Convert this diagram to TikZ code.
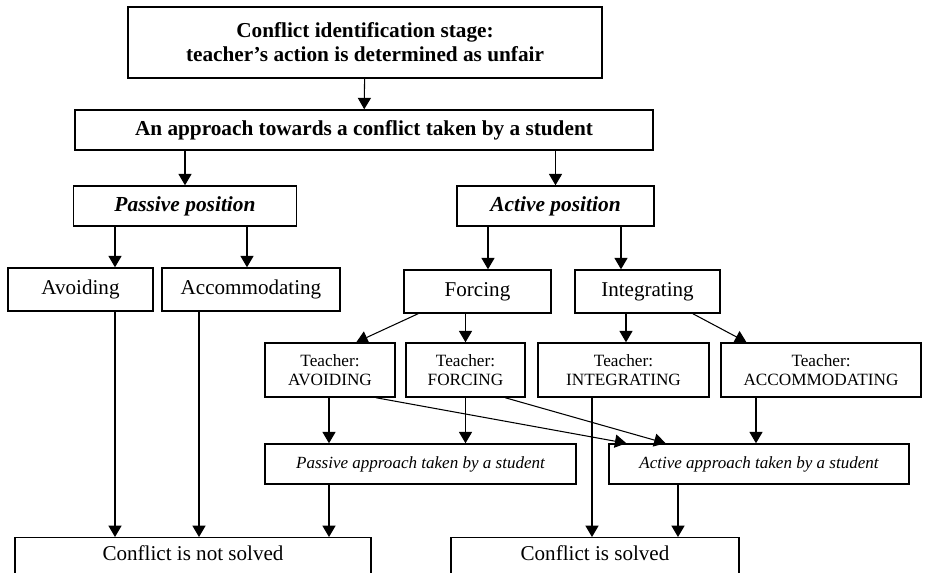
\documentclass[tikz,border=0pt]{standalone}
\usepackage{fontspec}
\setmainfont{Liberation Serif}
\usetikzlibrary{arrows.meta,calc}

\tikzset{
  box/.style={draw,line width=0.85pt,align=center,inner sep=0pt},
  arr/.style={-{Triangle[length=6.5pt,width=7.5pt]},line width=0.6pt},
  headtxt/.style={font=\fontsize{12.1}{13.6}\selectfont\bfseries},
  stance/.style={font=\fontsize{12.2}{14}\selectfont\bfseries\itshape},
  plaintxt/.style={font=\fontsize{12}{14}\selectfont},
  teach/.style={font=\fontsize{9.8}{10.6}\selectfont},
  apprtxt/.style={font=\fontsize{9.7}{12}\selectfont\itshape},
}

\begin{document}
\begin{tikzpicture}[x=0.02cm,y=-0.02cm]
\useasboundingbox (0,0) rectangle (927,573);
\clip (0,0) rectangle (927,573);
% student side
\node[box,headtxt,minimum width=9.48cm,minimum height=1.42cm] (ident) at (365,42.5)
  {Conflict identification stage:\\teacher’s action is determined as unfair};
\node[box,headtxt,minimum width=11.56cm,minimum height=0.8cm] (approach) at (364,130)
  {An approach towards a conflict taken by a student};
\node[box,stance,minimum width=4.46cm,minimum height=0.8cm] (passive) at (185,206) {Passive position};
\node[box,stance,minimum width=3.94cm,minimum height=0.8cm] (active) at (555.5,206) {Active position};
\node[box,plaintxt,minimum width=2.9cm,minimum height=0.86cm] (avoid) at (80.5,289.5) {Avoiding};
\node[box,plaintxt,minimum width=3.56cm,minimum height=0.86cm] (accom) at (251,289.5) {Accommodating};
\node[box,plaintxt,minimum width=2.94cm,minimum height=0.86cm] (forcing) at (477.5,291.5) {Forcing};
\node[box,plaintxt,minimum width=2.9cm,minimum height=0.86cm] (integ) at (647.5,291.5) {Integrating};
% teacher side
\node[box,teach,minimum width=2.6cm,minimum height=1.08cm] (tavoid) at (330,370) {Teacher:\\AVOIDING};
\node[box,teach,minimum width=2.38cm,minimum height=1.08cm] (tforce) at (465.5,370) {Teacher:\\FORCING};
\node[box,teach,minimum width=3.42cm,minimum height=1.08cm] (tinteg) at (623.5,370) {Teacher:\\INTEGRATING};
\node[box,teach,minimum width=4cm,minimum height=1.08cm] (taccom) at (821,370) {Teacher:\\ACCOMMODATING};
\node[box,apprtxt,minimum width=6.22cm,minimum height=0.8cm] (pasappr) at (420.5,464) {Passive approach taken by a student};
\node[box,apprtxt,minimum width=6cm,minimum height=0.8cm] (actappr) at (759,464) {Active approach taken by a student};
% outcome
\node[box,plaintxt,anchor=north,minimum width=7.12cm,text height=13pt,text depth=30pt] (notsolved) at (193,537) {Conflict is not solved};
\node[box,plaintxt,anchor=north,minimum width=5.76cm,text height=13pt,text depth=30pt] (solved) at (595,537) {Conflict is solved};

\draw[arr] (ident) -- (approach);
\draw[arr] (approach.south -| passive) -- (passive);
\draw[arr] (approach.south -| active) -- (active);
\draw[arr] (passive.south -| 115,0) -- (avoid.north -| 115,0);
\draw[arr] (passive.south -| 247,0) -- (accom.north -| 247,0);
\draw[arr] (active.south -| 488,0) -- (forcing.north -| 488,0);
\draw[arr] (active.south -| 621,0) -- (integ.north -| 621,0);
\draw[arr] ($(forcing.south west)!0.1!(forcing.south east)$) -- ($(tavoid.north west)!0.7!(tavoid.north east)$);
\draw[arr] (forcing.south -| tforce) -- (tforce);
\draw[arr] (integ.south -| 626,0) -- (tinteg.north -| 626,0);
\draw[arr] ($(integ.south west)!0.81!(integ.south east)$) -- ($(taccom.north west)!0.13!(taccom.north east)$);
\draw[arr] (tavoid.south -| 329,0) -- (pasappr.north -| 329,0);
\draw[arr] (tforce) -- (tforce |- pasappr.north);
\draw[arr] ($(tavoid.south west)!0.85!(tavoid.south east)$) -- ($(actappr.north west)!0.06!(actappr.north east)$);
\draw[arr] ($(tforce.south west)!0.83!(tforce.south east)$) -- ($(actappr.north west)!0.19!(actappr.north east)$);
\draw[arr] (taccom.south -| 756,0) -- (actappr.north -| 756,0);
\draw[arr] (tinteg.south -| 592,0) -- (solved.north -| 592,0);
\draw[arr] (avoid.south -| 115,0) -- (notsolved.north -| 115,0);
\draw[arr] (accom.south -| 199,0) -- (notsolved.north -| 199,0);
\draw[arr] (pasappr.south -| 329,0) -- (notsolved.north -| 329,0);
\draw[arr] (actappr.south -| 678,0) -- (solved.north -| 678,0);
\end{tikzpicture}
\end{document}
